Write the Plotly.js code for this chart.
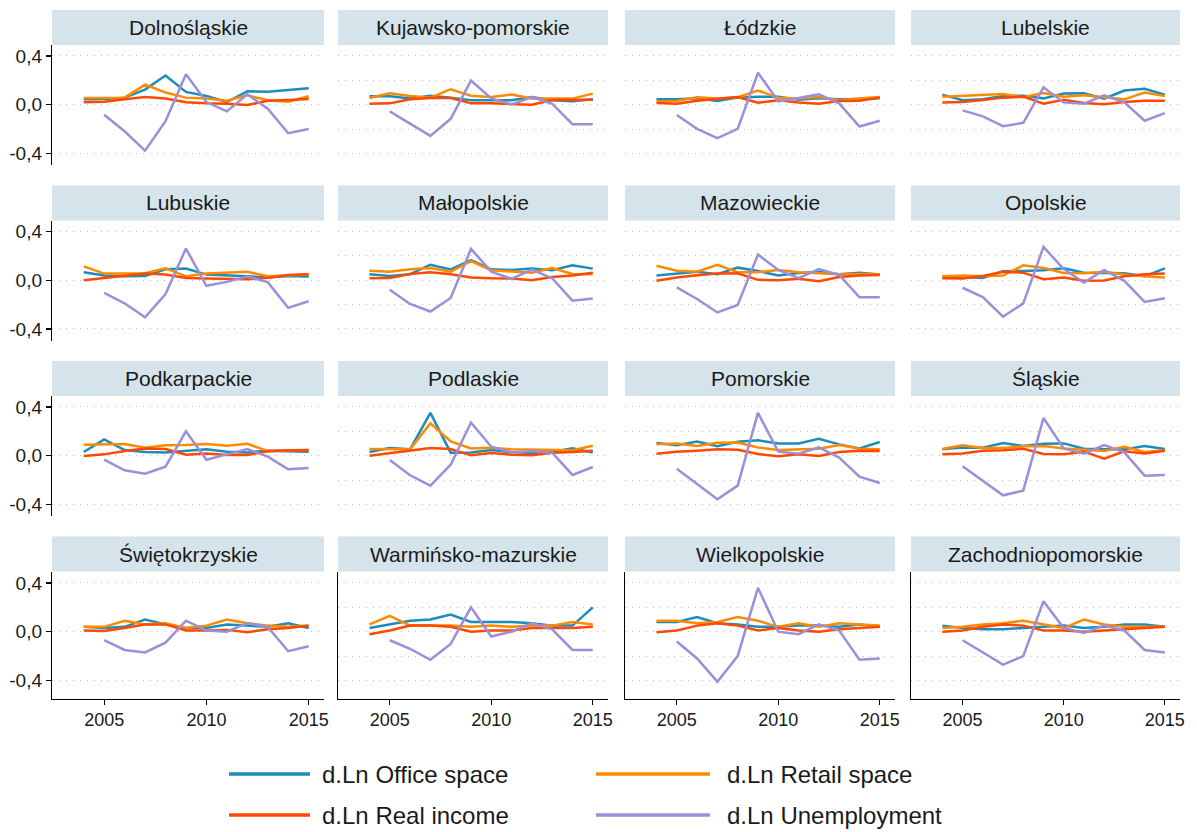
<!DOCTYPE html>
<html>
<head>
<meta charset="utf-8">
<script src="https://cdn.plot.ly/plotly-3.0.1.min.js"></script>
<style>html,body{margin:0;padding:0;background:#fff;}#chart{width:1197px;height:832px;}</style>
</head>
<body>
<div id="chart"></div>
<script>
const years = [2004,2005,2006,2007,2008,2009,2010,2011,2012,2013,2014,2015];
const unempYears = [2005,2006,2007,2008,2009,2010,2011,2012,2013,2014,2015];
const regions = ["Dolnośląskie","Kujawsko-pomorskie","Łódzkie","Lubelskie",
  "Lubuskie","Małopolskie","Mazowieckie","Opolskie",
  "Podkarpackie","Podlaskie","Pomorskie","Śląskie",
  "Świętokrzyskie","Warmińsko-mazurskie","Wielkopolskie","Zachodniopomorskie"];
const seriesNames = ["d.Ln Office space","d.Ln Retail space","d.Ln Real income","d.Ln Unemployment"];
const yTickVals = [-0.4, 0, 0.4];
const yTickText = ["-0,4","0,0","0,4"];
const xTickVals = [2005, 2010, 2015];

const officeSpace = [
  [0.044,0.047,0.058,0.124,0.24,0.105,0.072,0.022,0.11,0.107,0.121,0.135],
  [0.069,0.069,0.05,0.074,0.058,0.036,0.036,0.036,0.063,0.036,0.028,0.044],
  [0.044,0.044,0.052,0.03,0.058,0.066,0.066,0.041,0.052,0.044,0.047,0.052],
  [0.083,0.036,0.044,0.072,0.074,0.052,0.091,0.094,0.05,0.116,0.13,0.083],
  [0.065,0.038,0.032,0.035,0.089,0.095,0.046,0.041,0.032,0.022,0.035,0.03],
  [0.049,0.035,0.049,0.127,0.089,0.165,0.089,0.084,0.097,0.081,0.122,0.095],
  [0.038,0.057,0.07,0.049,0.103,0.076,0.038,0.059,0.07,0.049,0.062,0.046],
  [0.027,0.027,0.019,0.073,0.076,0.081,0.097,0.062,0.059,0.057,0.032,0.097],
  [0.03,0.134,0.046,0.03,0.027,0.038,0.052,0.033,0.027,0.041,0.038,0.033],
  [0.03,0.063,0.052,0.352,0.025,0.027,0.046,0.03,0.022,0.03,0.06,0.027],
  [0.104,0.085,0.117,0.077,0.115,0.126,0.101,0.101,0.139,0.093,0.06,0.112],
  [0.052,0.068,0.066,0.104,0.079,0.098,0.101,0.057,0.052,0.052,0.079,0.055],
  [0.04,0.03,0.04,0.1,0.06,0.03,0.03,0.06,0.05,0.04,0.07,0.03],
  [0.03,0.06,0.09,0.1,0.14,0.08,0.08,0.08,0.07,0.05,0.05,0.2],
  [0.08,0.08,0.12,0.07,0.06,0.04,0.04,0.05,0.05,0.04,0.06,0.04],
  [0.05,0.03,0.02,0.02,0.03,0.04,0.05,0.03,0.04,0.06,0.06,0.04]
];
const retailSpace = [
  [0.055,0.055,0.058,0.165,0.10,0.058,0.05,0.033,0.077,0.036,0.025,0.069],
  [0.055,0.094,0.072,0.058,0.127,0.074,0.063,0.083,0.05,0.047,0.05,0.091],
  [0.028,0.03,0.061,0.05,0.061,0.116,0.058,0.05,0.063,0.036,0.05,0.063],
  [0.066,0.072,0.083,0.088,0.061,0.096,0.066,0.077,0.061,0.044,0.099,0.072],
  [0.114,0.054,0.054,0.057,0.097,0.032,0.054,0.062,0.07,0.032,0.041,0.046],
  [0.078,0.07,0.089,0.10,0.07,0.157,0.081,0.073,0.062,0.10,0.051,0.049],
  [0.119,0.078,0.07,0.127,0.065,0.065,0.084,0.065,0.057,0.049,0.051,0.049],
  [0.032,0.038,0.032,0.038,0.122,0.10,0.059,0.057,0.07,0.046,0.032,0.022],
  [0.09,0.096,0.096,0.066,0.085,0.087,0.096,0.082,0.098,0.038,0.046,0.049],
  [0.055,0.052,0.052,0.265,0.117,0.06,0.066,0.052,0.049,0.046,0.044,0.082],
  [0.093,0.101,0.079,0.107,0.109,0.068,0.046,0.052,0.057,0.087,0.057,0.052],
  [0.055,0.085,0.063,0.063,0.077,0.079,0.06,0.046,0.038,0.074,0.03,0.044],
  [0.04,0.04,0.09,0.06,0.07,0.03,0.05,0.1,0.07,0.05,0.04,0.05],
  [0.06,0.13,0.05,0.05,0.05,0.04,0.05,0.04,0.05,0.05,0.08,0.06],
  [0.09,0.09,0.07,0.08,0.12,0.09,0.04,0.07,0.04,0.07,0.06,0.05],
  [0.03,0.04,0.06,0.07,0.09,0.06,0.03,0.10,0.06,0.04,0.04,0.04]
];
const realIncome = [
  [0.02,0.025,0.044,0.063,0.05,0.02,0.011,0.008,-0.003,0.033,0.039,0.047],
  [0.008,0.011,0.044,0.055,0.055,0.011,0.011,0.008,0.0,0.039,0.039,0.041],
  [0.014,0.008,0.033,0.05,0.063,0.017,0.036,0.019,0.008,0.03,0.033,0.058],
  [0.017,0.022,0.039,0.058,0.066,0.008,0.041,0.014,0.003,0.022,0.033,0.033],
  [0.0,0.016,0.032,0.054,0.046,0.019,0.014,0.011,0.008,0.019,0.043,0.049],
  [0.016,0.019,0.051,0.065,0.049,0.022,0.016,0.014,0.0,0.027,0.038,0.062],
  [-0.005,0.022,0.041,0.054,0.057,0.003,0.0,0.011,-0.008,0.027,0.038,0.043],
  [0.016,0.014,0.035,0.07,0.062,0.008,0.022,-0.005,-0.003,0.032,0.049,0.054],
  [-0.003,0.011,0.038,0.06,0.055,0.008,0.019,0.005,0.005,0.036,0.044,0.044],
  [0.0,0.019,0.041,0.063,0.055,0.003,0.022,0.008,0.003,0.025,0.03,0.041],
  [0.016,0.033,0.041,0.052,0.049,0.014,-0.005,0.011,-0.003,0.03,0.041,0.038],
  [0.011,0.019,0.041,0.044,0.057,0.014,0.011,0.033,-0.025,0.036,0.019,0.041],
  [0.01,0.005,0.03,0.06,0.06,0.01,0.01,0.015,-0.005,0.02,0.03,0.05],
  [-0.02,0.01,0.05,0.05,0.04,0.0,0.01,0.01,0.03,0.03,0.03,0.04],
  [-0.005,0.01,0.05,0.07,0.05,0.01,0.03,0.01,0.0,0.02,0.03,0.04],
  [0.0,0.01,0.04,0.06,0.05,0.01,0.01,0.0,0.01,0.02,0.03,0.04]
];
const unemployment = [
  [-0.083,-0.218,-0.377,-0.135,0.25,0.022,-0.055,0.085,-0.033,-0.234,-0.2],
  [-0.055,-0.157,-0.256,-0.116,0.198,0.052,0.003,0.063,0.008,-0.16,-0.16],
  [-0.085,-0.198,-0.275,-0.198,0.262,0.028,0.055,0.085,0.011,-0.179,-0.132],
  [-0.047,-0.096,-0.176,-0.149,0.143,0.019,0.008,0.077,0.019,-0.132,-0.069],
  [-0.105,-0.19,-0.305,-0.114,0.26,-0.046,-0.014,0.03,-0.016,-0.227,-0.173],
  [-0.078,-0.195,-0.257,-0.146,0.257,0.07,0.011,0.086,0.016,-0.168,-0.151],
  [-0.059,-0.154,-0.265,-0.203,0.211,0.084,0.016,0.092,0.043,-0.141,-0.141],
  [-0.062,-0.138,-0.30,-0.19,0.273,0.092,-0.019,0.084,-0.005,-0.178,-0.149],
  [-0.033,-0.12,-0.148,-0.09,0.20,-0.033,0.011,0.055,-0.008,-0.112,-0.101],
  [-0.036,-0.161,-0.246,-0.074,0.273,0.074,0.027,0.038,0.025,-0.158,-0.093],
  [-0.107,-0.232,-0.358,-0.246,0.352,0.033,0.016,0.068,-0.016,-0.172,-0.224],
  [-0.087,-0.205,-0.325,-0.287,0.309,0.06,0.016,0.087,0.027,-0.164,-0.158],
  [-0.07,-0.15,-0.17,-0.09,0.09,0.01,0.0,0.07,0.04,-0.16,-0.12],
  [-0.07,-0.14,-0.23,-0.10,0.20,-0.04,0.0,0.07,0.02,-0.15,-0.15],
  [-0.08,-0.22,-0.41,-0.20,0.36,0.0,-0.02,0.06,0.01,-0.23,-0.22],
  [-0.07,-0.17,-0.27,-0.20,0.25,0.03,-0.01,0.05,0.01,-0.15,-0.17]
];

const colors = ["#1a8dbd", "#ff8a00", "#ff4800", "#9c8fd9"];

const W = 1197, H = 832;
const colX = [[52,324],[338,608],[625,895],[911,1180]];
const rowTop0 = 45, rowStep = 175.5, plotH = 120, headH = 35;
const yRange = [-0.495, 0.49];
const yRangeBottom = [-0.548, 0.494];
const bottomRowExtra = 7;
const xRange = [2002.45, 2015.75];
const FONT = "Liberation Sans, Arial, Helvetica, sans-serif";
const TXT = "#1a1a1a";
const gridDash = "1px,6px";
const gridCol = "#bdbdbd";

const data = [];
const layout = {
  width: W, height: H,
  margin: {l:0, r:0, t:0, b:0},
  paper_bgcolor: "#ffffff",
  plot_bgcolor: "#ffffff",
  showlegend: false,
  font: {family: FONT, color: TXT},
  shapes: [], annotations: []
};

const allSeries = [officeSpace, retailSpace, realIncome, unemployment];

regions.forEach((name, k) => {
  const r = Math.floor(k / 4), c = k % 4;
  const ax = k + 1;
  const xa = "x" + ax, ya = "y" + ax;
  const isLeft = c === 0, isBottom = r === 3;
  const top = rowTop0 + r * rowStep;
  const bot = top + plotH + (isBottom ? bottomRowExtra : 0);
  const [xl, xr] = colX[c];

  allSeries.forEach((s, si) => {
    data.push({
      type: "scatter", mode: "lines",
      x: si === 3 ? unempYears : years,
      y: s[k],
      name: seriesNames[si],
      xaxis: xa, yaxis: ya,
      line: {color: colors[si], width: 2.5},
      hoverinfo: "skip"
    });
  });

  layout["xaxis" + (ax === 1 ? "" : ax)] = {
    domain: [xl / W, xr / W], anchor: ya,
    range: xRange, showgrid: false, zeroline: false,
    tickvals: xTickVals, showticklabels: isBottom,
    ticks: isBottom ? "outside" : "", ticklen: 5, tickcolor: "#000", tickwidth: 1.2,
    showline: isBottom, linecolor: "#000", linewidth: 1.2,
    tickfont: {size: 18, color: TXT, family: FONT}
  };
  const yax = {
    domain: [1 - bot / H, 1 - top / H], anchor: xa,
    range: isBottom ? yRangeBottom : yRange, zeroline: false,
    tickvals: yTickVals, ticktext: yTickText,
    showticklabels: isLeft,
    showgrid: true, gridcolor: gridCol, griddash: gridDash, gridwidth: 1,
    ticks: isLeft ? "outside" : "", ticklen: 5, tickcolor: "#000", tickwidth: 1.2,
    showline: isLeft || isBottom, linecolor: "#000", linewidth: 1.2,
    tickfont: {size: 19, color: TXT, family: FONT}
  };
  if (!isLeft) {
    yax.minor = {tickvals: [-0.2, 0.2], showgrid: true, gridcolor: gridCol, griddash: gridDash, gridwidth: 1, ticks: ""};
  }
  layout["yaxis" + (ax === 1 ? "" : ax)] = yax;

  layout.shapes.push({
    type: "rect", xref: "paper", yref: "paper",
    x0: xl / W, x1: xr / W, y0: 1 - top / H, y1: 1 - (top - headH) / H,
    fillcolor: "#d5e4eb", line: {width: 0}, layer: "below"
  });
  layout.annotations.push({
    xref: "paper", yref: "paper",
    x: (xl + xr) / 2 / W, y: 1 - (top - headH / 2) / H,
    text: name, showarrow: false, xanchor: "center", yanchor: "middle",
    font: {size: 21, color: TXT, family: FONT}
  });
});

// legend (2 x 2 grid under the panels)
const legendPos = [[229,310,320,774],[596,710,725,774],[229,310,320,815],[596,710,725,815]];
seriesNames.forEach((nm, i) => {
  const [l0, l1, tx, ty] = legendPos[i];
  layout.shapes.push({
    type: "line", xref: "paper", yref: "paper",
    x0: l0 / W, x1: l1 / W, y0: 1 - ty / H, y1: 1 - ty / H,
    line: {color: colors[i], width: 3.5}
  });
  layout.annotations.push({
    xref: "paper", yref: "paper", x: tx / W, y: 1 - ty / H,
    text: nm, showarrow: false, xanchor: "left", yanchor: "middle",
    font: {size: 24, color: TXT, family: FONT}
  });
});

Plotly.newPlot("chart", data, layout, {displayModeBar: false, staticPlot: true});
</script>
</body>
</html>
